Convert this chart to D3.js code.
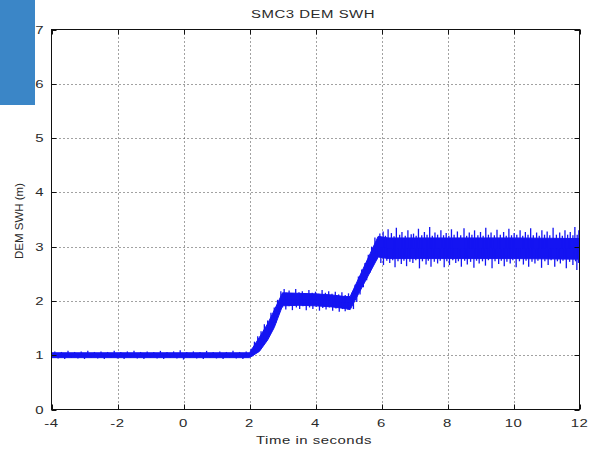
<!DOCTYPE html>
<html>
<head>
<meta charset="utf-8">
<script src="https://cdn.jsdelivr.net/npm/d3@7"></script>
<style>
html,body{margin:0;padding:0;background:#fff;}
svg{display:block;}
text{font-family:"Liberation Sans",Arial,Helvetica,sans-serif;fill:#2a2a2a;}
</style>
</head>
<body>
<svg id="chart" width="590" height="451"></svg>
<script>
// ---- data ----
const titleText = "SMC3 DEM SWH";
const xLabelText = "Time in seconds";
const yLabelText = "DEM SWH (m)";
const xTicks = [-4, -2, 0, 2, 4, 6, 8, 10, 12];
const yTicks = [0, 1, 2, 3, 4, 5, 6, 7];

// mean level of the trace and half-width of its dense noise band
const keyT    = [-4,   2.0,  2.3,  2.55, 2.75, 3.0,  3.5,  4.0,  4.5,  4.9,  5.05, 5.9,  6.2,  8.0,  10.0, 12.0];
const keyMean = [1.0,  1.0,  1.2,  1.43, 1.67, 2.03, 2.03, 2.02, 2.0,  1.97, 1.96, 3.0,  2.97, 2.97, 2.97, 2.96];
const keyHalf = [0.045,0.045,0.13, 0.15, 0.16, 0.12, 0.11, 0.11, 0.11, 0.11, 0.12, 0.19, 0.19, 0.19, 0.19, 0.19];

// noise spikes above the band: [time, tip value]
const spikesUp = [
  [-3.9,1.07],[-3.7,1.06],[-3.5,1.08],[-3.3,1.06],[-3.1,1.07],[-2.9,1.08],[-2.7,1.06],[-2.5,1.07],[-2.3,1.06],[-2.1,1.08],
  [-1.9,1.06],[-1.7,1.07],[-1.5,1.08],[-1.3,1.06],[-1.1,1.07],[-0.9,1.06],[-0.7,1.08],[-0.5,1.06],[-0.3,1.07],[-0.1,1.09],
  [0.1,1.06],[0.3,1.07],[0.5,1.06],[0.7,1.08],[0.9,1.06],[1.1,1.07],[1.3,1.06],[1.5,1.08],[1.7,1.06],[1.9,1.07],
  [2.05,1.12],[2.15,1.25],[2.25,1.35],[2.35,1.44],[2.45,1.57],[2.55,1.64],[2.65,1.78],[2.75,1.88],[2.85,2.02],
  [2.95,2.18],[3.05,2.22],[3.12,2.15],[3.2,2.19],[3.3,2.14],[3.4,2.22],[3.5,2.16],[3.6,2.18],[3.7,2.14],[3.8,2.2],
  [3.9,2.15],[4.0,2.17],[4.1,2.13],[4.2,2.2],[4.3,2.15],[4.4,2.18],[4.5,2.13],[4.6,2.17],[4.7,2.12],[4.8,2.16],[4.9,2.11],[5.0,2.14],
  [5.1,2.15],[5.2,2.3],[5.3,2.45],[5.4,2.58],[5.5,2.7],[5.6,2.85],[5.7,3.0],[5.8,3.17],
  [5.95,3.24],[6.05,3.28],[6.12,3.2],[6.2,3.32],[6.3,3.25],[6.38,3.19],[6.45,3.35],[6.55,3.22],[6.62,3.27],[6.72,3.2],
  [6.8,3.3],[6.9,3.23],[6.97,3.24],[7.05,3.2],[7.12,3.33],[7.22,3.21],[7.3,3.27],[7.38,3.22],[7.46,3.36],[7.54,3.2],
  [7.62,3.26],[7.7,3.22],[7.8,3.3],[7.88,3.21],[7.96,3.25],[8.04,3.2],[8.12,3.32],[8.2,3.22],[8.3,3.28],[8.4,3.21],
  [8.5,3.34],[8.58,3.2],[8.66,3.26],[8.74,3.22],[8.82,3.3],[8.92,3.21],[9.0,3.27],[9.08,3.2],[9.16,3.35],[9.24,3.22],
  [9.32,3.26],[9.42,3.21],[9.5,3.31],[9.6,3.22],[9.7,3.27],[9.78,3.2],[9.86,3.33],[9.94,3.21],[10.02,3.25],[10.1,3.22],
  [10.2,3.3],[10.28,3.2],[10.36,3.27],[10.44,3.22],[10.52,3.34],[10.6,3.21],[10.7,3.26],[10.78,3.2],[10.86,3.3],[10.94,3.22],
  [11.02,3.28],[11.1,3.21],[11.2,3.35],[11.3,3.22],[11.4,3.26],[11.48,3.2],[11.56,3.3],[11.64,3.22],[11.72,3.27],[11.8,3.21],
  [11.86,3.36],[11.93,3.22],[11.98,3.3]
];
// noise spikes below the band: [time, tip value]
const spikesDown = [
  [-3.8,0.94],[-3.6,0.93],[-3.4,0.95],[-3.2,0.94],[-3.0,0.93],[-2.8,0.95],[-2.6,0.94],[-2.4,0.93],[-2.2,0.95],[-2.0,0.94],
  [-1.8,0.93],[-1.6,0.95],[-1.4,0.94],[-1.2,0.93],[-1.0,0.95],[-0.8,0.94],[-0.6,0.93],[-0.4,0.95],[-0.2,0.94],[0.0,0.92],
  [0.2,0.95],[0.4,0.94],[0.6,0.93],[0.8,0.95],[1.0,0.94],[1.2,0.93],[1.4,0.95],[1.6,0.94],[1.8,0.93],
  [2.1,0.98],[2.2,1.04],[2.3,1.1],[2.4,1.2],[2.5,1.28],[2.6,1.4],[2.7,1.48],[2.8,1.6],[2.9,1.76],
  [3.0,1.88],[3.1,1.84],[3.2,1.9],[3.3,1.83],[3.42,1.88],[3.52,1.85],[3.62,1.9],[3.72,1.83],[3.82,1.88],[3.92,1.85],
  [4.02,1.89],[4.12,1.82],[4.22,1.87],[4.32,1.84],[4.42,1.88],[4.52,1.82],[4.62,1.86],[4.72,1.8],[4.82,1.85],[4.9,1.81],[4.98,1.84],
  [5.15,1.85],[5.25,1.98],[5.35,2.12],[5.45,2.25],[5.55,2.38],[5.65,2.52],[5.75,2.66],[5.85,2.76],
  [5.98,2.7],[6.06,2.66],[6.16,2.74],[6.25,2.7],[6.34,2.75],[6.41,2.62],[6.5,2.73],[6.6,2.68],[6.68,2.74],[6.76,2.64],
  [6.86,2.72],[6.95,2.7],[7.04,2.75],[7.15,2.6],[7.24,2.73],[7.35,2.67],[7.42,2.74],[7.5,2.63],[7.6,2.72],[7.7,2.69],
  [7.78,2.74],[7.9,2.62],[7.98,2.73],[8.06,2.66],[8.16,2.75],[8.25,2.7],[8.33,2.73],[8.42,2.63],[8.52,2.74],[8.6,2.67],
  [8.7,2.72],[8.8,2.61],[8.88,2.74],[8.96,2.69],[9.06,2.73],[9.15,2.65],[9.24,2.75],[9.35,2.6],[9.44,2.73],[9.55,2.68],
  [9.63,2.74],[9.72,2.64],[9.8,2.72],[9.9,2.69],[9.98,2.75],[10.08,2.62],[10.18,2.73],[10.3,2.67],[10.38,2.74],[10.46,2.63],
  [10.56,2.72],[10.65,2.69],[10.74,2.74],[10.85,2.61],[10.95,2.73],[11.05,2.66],[11.14,2.75],[11.25,2.63],[11.33,2.73],[11.42,2.69],
  [11.5,2.74],[11.6,2.6],[11.7,2.72],[11.8,2.66],[11.88,2.73],[11.92,2.57],[11.97,2.7]
];

// ---- drawing ----
const svg = d3.select("#chart");
const x = d3.scaleLinear().domain([-4, 12]).range([51.5, 579.5]);
const y = d3.scaleLinear().domain([0, 7]).range([409.5, 29.5]);
const meanAt = d3.scaleLinear().domain(keyT).range(keyMean);

const fs = 11.5, sx = 1.3, ls = 0.4;

// grid
const grid = svg.append("g").attr("stroke", "#444").attr("stroke-width", 1).attr("stroke-dasharray", "1,3");
xTicks.slice(1, -1).forEach(t => grid.append("line")
  .attr("x1", Math.round(x(t)) + 0.5).attr("x2", Math.round(x(t)) + 0.5)
  .attr("y1", y(7)).attr("y2", y(0)));
yTicks.slice(1, -1).forEach(v => grid.append("line")
  .attr("y1", Math.round(y(v)) + 0.5).attr("y2", Math.round(y(v)) + 0.5)
  .attr("x1", x(-4)).attr("x2", x(12)));

// signal band
const band = keyT.map((t, i) => ({t, m: keyMean[i], h: keyHalf[i]}));
const blue = "#1414f2";
svg.append("path").datum(band)
  .attr("fill", blue).attr("stroke", blue).attr("stroke-width", 1)
  .attr("d", d3.area().x(d => x(d.t)).y0(d => y(d.m - d.h)).y1(d => y(d.m + d.h)));

// spikes
const spikes = svg.append("g").attr("stroke", blue).attr("stroke-width", 1.3);
spikesUp.concat(spikesDown).forEach(([t, v]) => spikes.append("line")
  .attr("x1", x(t)).attr("x2", x(t)).attr("y1", y(meanAt(t))).attr("y2", y(v)));

// axes box and ticks
const ax = svg.append("g").attr("stroke", "#111").attr("stroke-width", 1).attr("fill", "none");
ax.append("rect").attr("x", x(-4)).attr("y", y(7)).attr("width", x(12) - x(-4)).attr("height", y(0) - y(7));
xTicks.forEach(t => {
  const px = Math.round(x(t)) + 0.5;
  ax.append("line").attr("x1", px).attr("x2", px).attr("y1", y(0)).attr("y2", y(0) - 5);
  ax.append("line").attr("x1", px).attr("x2", px).attr("y1", y(7)).attr("y2", y(7) + 5);
});
yTicks.forEach(v => {
  const py = Math.round(y(v)) + 0.5;
  ax.append("line").attr("y1", py).attr("y2", py).attr("x1", x(-4)).attr("x2", x(-4) + 5);
  ax.append("line").attr("y1", py).attr("y2", py).attr("x1", x(12)).attr("x2", x(12) - 5);
});

// tick labels
xTicks.forEach(t => svg.append("text")
  .attr("transform", `translate(${x(t)},427) scale(${sx},1)`)
  .attr("text-anchor", "middle").attr("font-size", fs).attr("letter-spacing", ls).text(t));
yTicks.forEach(v => svg.append("text")
  .attr("transform", `translate(44,${y(v) + 4}) scale(${sx},1)`)
  .attr("text-anchor", "end").attr("font-size", fs).attr("letter-spacing", ls).text(v));

// titles
svg.append("text").attr("transform", `translate(313,18) scale(${sx},1)`)
  .attr("text-anchor", "middle").attr("font-size", fs).attr("letter-spacing", ls).text(titleText);
svg.append("text").attr("transform", `translate(314,444) scale(${sx},1)`)
  .attr("text-anchor", "middle").attr("font-size", fs).attr("letter-spacing", ls).text(xLabelText);
svg.append("text").attr("transform", `translate(23,221) rotate(-90)`)
  .attr("text-anchor", "middle").attr("font-size", fs).text(yLabelText);

// blue block in the top-left corner
svg.append("rect").attr("x", 0).attr("y", 0).attr("width", 35).attr("height", 105).attr("fill", "#3b86c7");
</script>
</body>
</html>
